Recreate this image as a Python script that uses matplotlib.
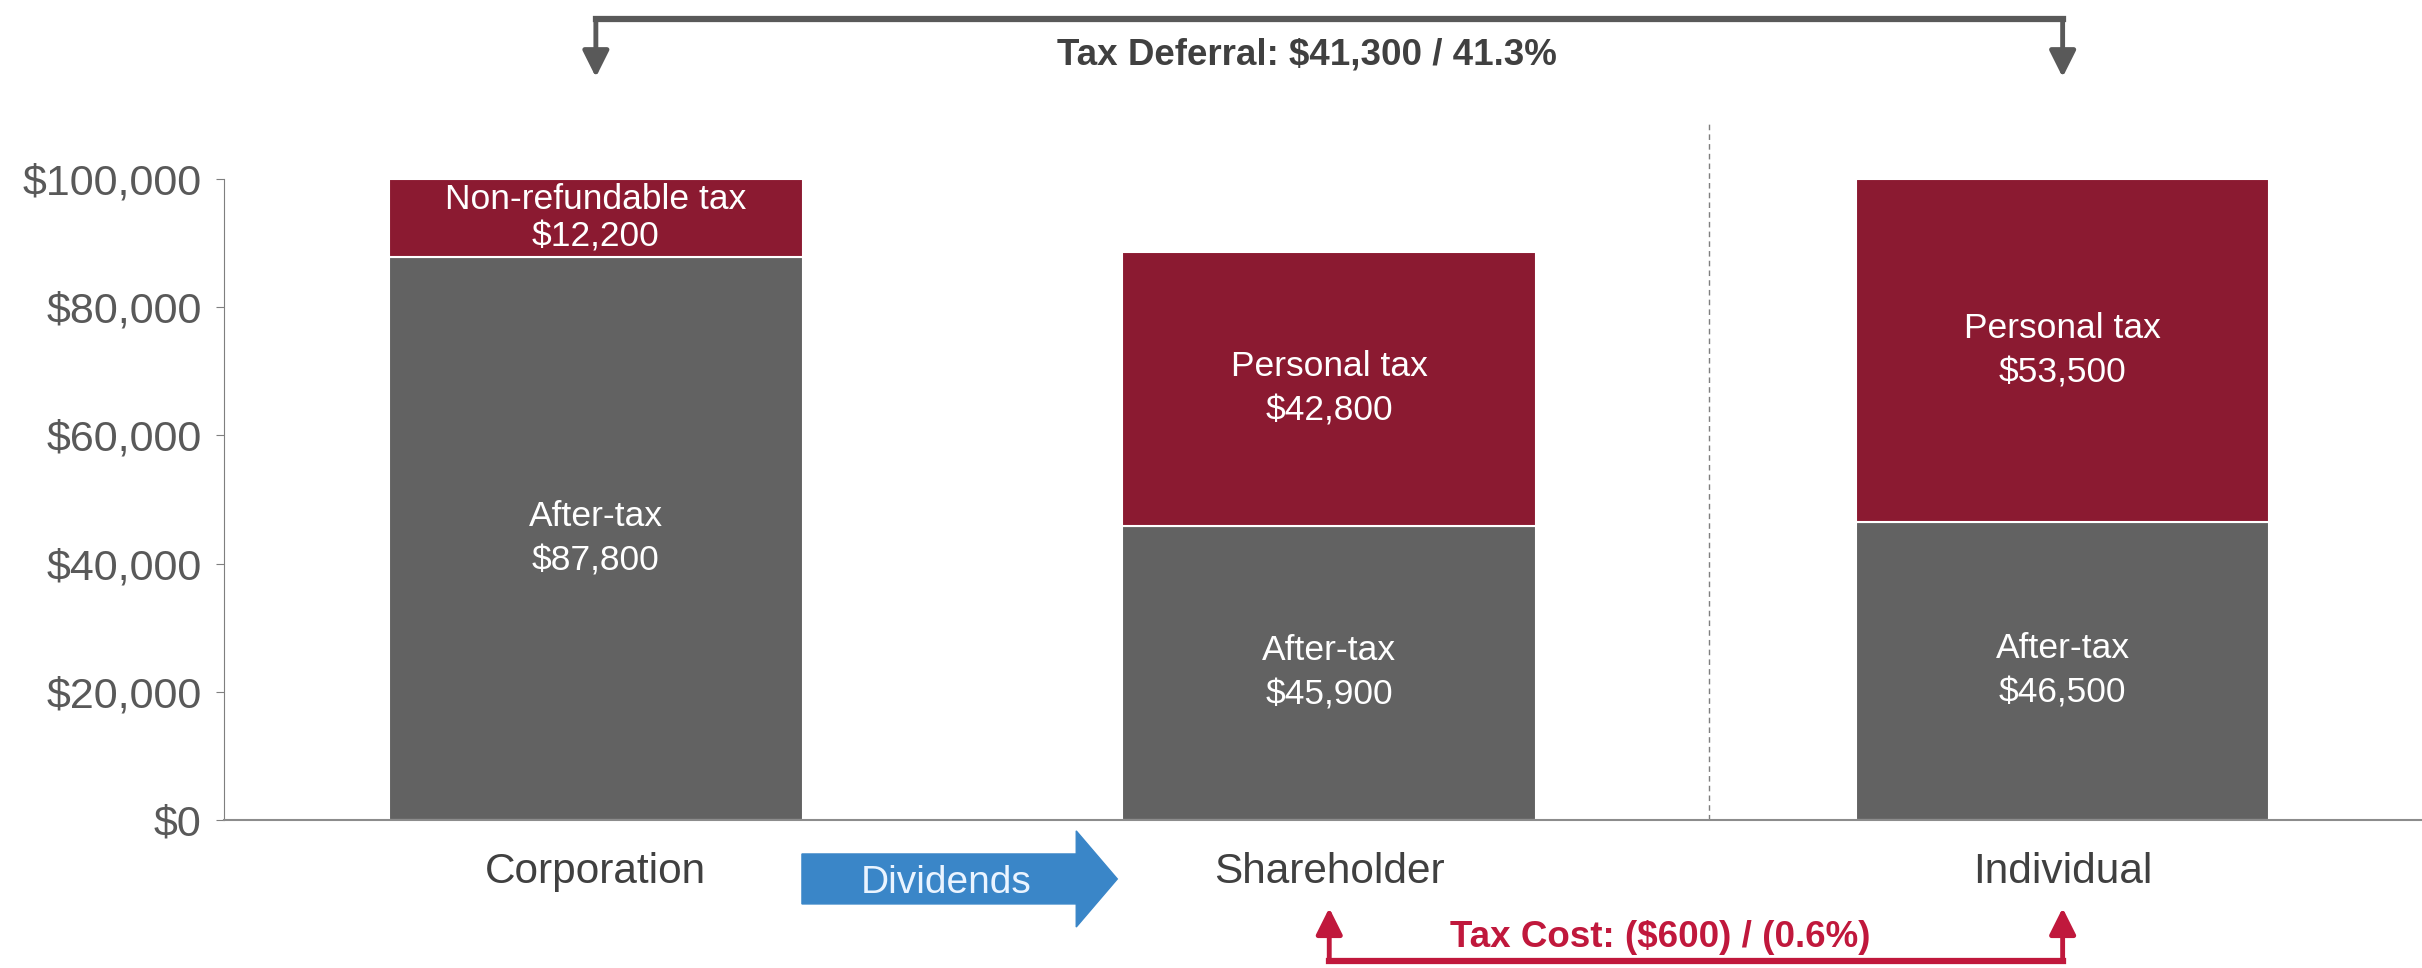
import matplotlib.pyplot as plt
from matplotlib.patches import FancyArrow
from matplotlib.ticker import FuncFormatter

plt.rcParams['font.family'] = ['Liberation Sans', 'DejaVu Sans']

entities = ['Corporation', 'Shareholder', 'Individual']
after_tax = [87800, 45900, 46500]
tax_paid = [12200, 42800, 53500]
tax_names = ['Non-refundable tax', 'Personal tax', 'Personal tax']
deferral_text = 'Tax Deferral: $41,300 / 41.3%'
cost_text = 'Tax Cost: ($600) / (0.6%)'

GREY = '#626262'
MAROON = '#8b1a31'
RED = '#c0183c'
BLUE = '#3a86c8'

fig = plt.figure(figsize=(24.22, 9.68), dpi=100)
ax = fig.add_axes([0.0925, 0.1529, 0.9075, 0.719])

x = list(range(len(entities)))
ax.bar(x, after_tax, width=0.564, color=GREY, edgecolor='white', linewidth=1.5)
ax.bar(x, tax_paid, bottom=after_tax, width=0.564, color=MAROON,
       edgecolor='white', linewidth=1.5)

# segment labels
for i in x:
    a, t = after_tax[i], tax_paid[i]
    ax.text(i, a / 2, f'After-tax\n${a:,}', ha='center', va='center',
            color='white', fontsize=25.5, linespacing=1.45)
    ax.text(i, a + t / 2, f'{tax_names[i]}\n${t:,}', ha='center', va='center',
            color='white', fontsize=25.5,
            linespacing=1.2 if t < 20000 else 1.45)

ax.set_xlim(-0.507, 2.49)
ax.set_ylim(0, 108600)

# separator between corporate and personal side
ax.plot([1.518, 1.518], [0, 108600], ls=(0, (4, 3)), color='#7f7f7f', lw=1)

for s in ['top', 'right']:
    ax.spines[s].set_visible(False)
ax.spines['left'].set_color('#7f7f7f')
ax.spines['left'].set_bounds(0, 100000)
ax.spines['bottom'].set_color('#8c8c8c')
ax.spines['bottom'].set_linewidth(1.5)

ax.set_yticks(range(0, 100001, 20000))
ax.yaxis.set_major_formatter(FuncFormatter(lambda v, p: f'${v:,.0f}'))
ax.tick_params(axis='y', length=6, color='#7f7f7f', labelsize=31,
               labelcolor='#595959', pad=10)
ax.set_xticks(x)
ax.set_xticklabels(entities)
ax.tick_params(axis='x', length=0, pad=23, labelsize=30.5, labelcolor='#404040')

# tax deferral bracket above the chart
top_y, tip_y = 125000, 115900
ax.plot([0, 2], [top_y, top_y], color='#595959', lw=4.5, clip_on=False,
        solid_capstyle='projecting')
for xi in [0, 2]:
    ax.annotate('', xy=(xi, tip_y), xytext=(xi, top_y), annotation_clip=False,
                arrowprops=dict(arrowstyle='-|>,head_length=0.8,head_width=0.4',
                                color='#595959', lw=3.5, mutation_scale=20,
                                shrinkA=0, shrinkB=0))
ax.text(0.969, 119300, deferral_text, ha='center', va='center', fontsize=26.5,
        fontweight='bold', color='#404040')

# tax cost bracket below the chart
low_y, up_y = -22000, -13730
ax.plot([1, 2], [low_y, low_y], color=RED, lw=4.5, clip_on=False,
        solid_capstyle='projecting')
for xi in [1, 2]:
    ax.annotate('', xy=(xi, up_y), xytext=(xi, low_y), annotation_clip=False,
                arrowprops=dict(arrowstyle='-|>,head_length=0.8,head_width=0.4',
                                color=RED, lw=3.5, mutation_scale=20,
                                shrinkA=0, shrinkB=0))
ax.text(1.452, -18300, cost_text, ha='center', va='center', fontsize=26.5,
        fontweight='bold', color=RED, clip_on=False)

# dividends flow arrow
arrow = FancyArrow(0.281, -9200, 0.43, 0, width=7800, head_width=15000,
                   head_length=0.056, length_includes_head=True,
                   color=BLUE, clip_on=False)
ax.add_patch(arrow)
ax.text(0.478, -9800, 'Dividends', ha='center', va='center', fontsize=28,
        color='#eaf4ff', clip_on=False)

fig.savefig('out.png', dpi=100)
